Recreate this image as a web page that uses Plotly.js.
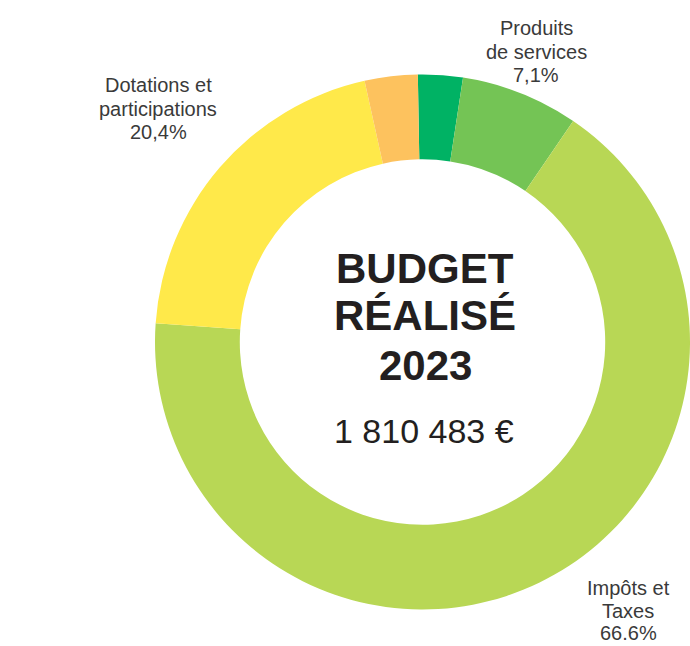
<!DOCTYPE html>
<html>
<head>
<meta charset="utf-8">
<script src="https://cdn.plot.ly/plotly-3.0.1.min.js"></script>
<style>html,body{margin:0;padding:0;background:#fff;overflow:hidden;}</style>
</head>
<body>
<div id="chart" style="width:690px;height:646px;"></div>
<script>
// Data (slices clockwise from 12 o'clock)
const categories = ["Autres recettes", "Produits de services", "Impôts et Taxes", "Dotations et participations", "Produits exceptionnels"];
const values = [2.7, 7.1, 66.6, 20.4, 3.2];
const colors = ["#00B264", "#74C455", "#B8D755", "#FFE94A", "#FDC25E"];
// Outside labels (lines) shown for three slices
const labelLines = [
  ["Produits", "de services", "7,1%"],
  ["Dotations et", "participations", "20,4%"],
  ["Impôts et", "Taxes", "66.6%"]
];
const centerTitle = ["BUDGET", "RÉALISÉ", "2023"];
const centerTotal = "1 810 483 €";

const W = 690, H = 646;
const px = x => x / W;
const py = y => (H - y) / H;

// label anchor positions (pixels: center x, first-line middle y)
const labelPos = [[536, 28], [158, 85], [628, 588]];
const lineStep = [23.5, 23.5, 22.5];

const annotations = [];
labelLines.forEach((lines, i) => {
  lines.forEach((t, j) => {
    annotations.push({
      text: t, x: px(labelPos[i][0]), y: py(labelPos[i][1] + j * lineStep[i]),
      xref: 'paper', yref: 'paper', xanchor: 'center', yanchor: 'middle',
      showarrow: false, font: {family: 'Liberation Sans, Arial, sans-serif', size: 20, color: '#3a3a3a'}
    });
  });
});
const titleY = [268, 315, 365];
centerTitle.forEach((t, j) => {
  annotations.push({
    text: '<b>' + t + '</b>', x: px(425), y: py(titleY[j]),
    xref: 'paper', yref: 'paper', xanchor: 'center', yanchor: 'middle',
    showarrow: false, font: {family: 'Liberation Sans, Arial, sans-serif', size: 42, color: '#231f20'}
  });
});
annotations.push({
  text: centerTotal, x: px(424), y: py(431),
  xref: 'paper', yref: 'paper', xanchor: 'center', yanchor: 'middle',
  showarrow: false, font: {family: 'Liberation Sans, Arial, sans-serif', size: 34, color: '#231f20'}
});

const trace = {
  type: 'pie',
  labels: categories,
  values: values,
  sort: false,
  direction: 'clockwise',
  rotation: -1,
  hole: 0.683,
  textinfo: 'none',
  hoverinfo: 'label+percent',
  marker: {colors: colors, line: {width: 0}},
  domain: {x: [155 / W, 1], y: [36 / H, 572 / H]},
  showlegend: false
};

Plotly.newPlot('chart', [trace], {
  width: W, height: H,
  margin: {l: 0, r: 0, t: 0, b: 0},
  paper_bgcolor: '#ffffff',
  showlegend: false,
  annotations: annotations
}, {displayModeBar: false, staticPlot: true});
</script>
</body>
</html>
